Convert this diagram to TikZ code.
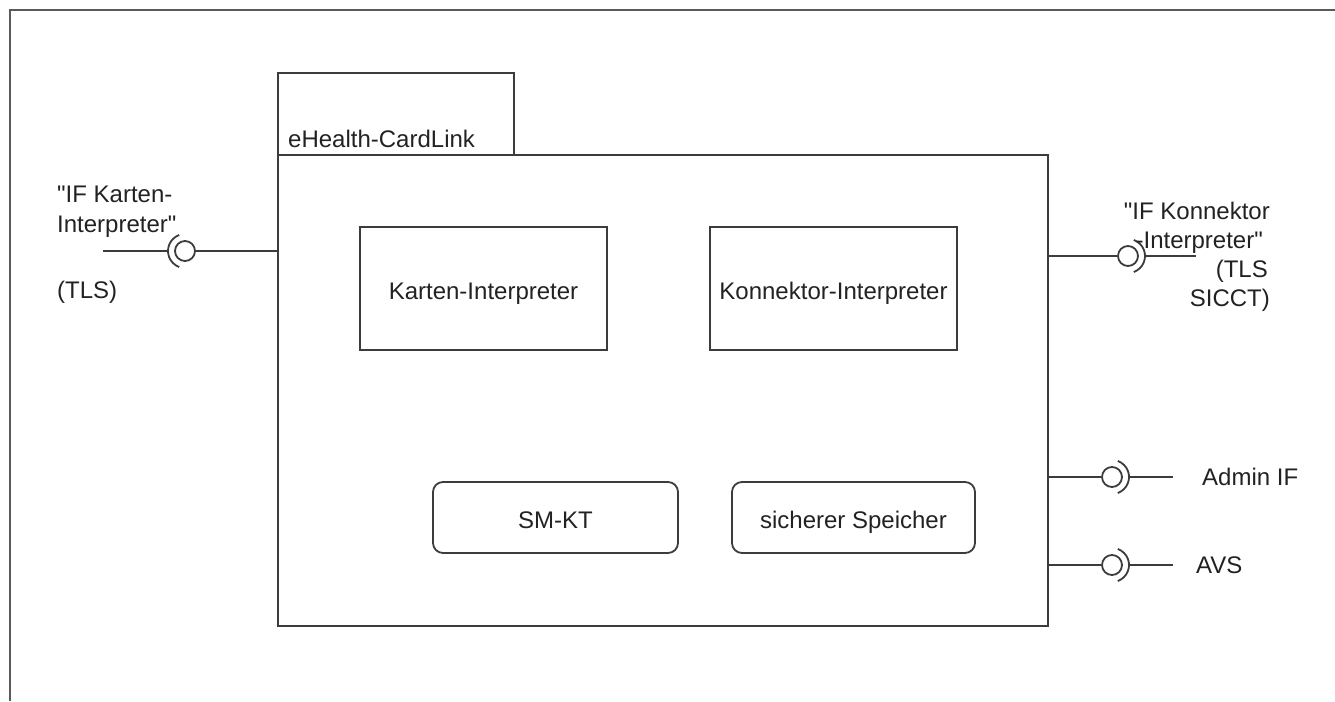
\documentclass[tikz,border=0pt]{standalone}
\usepackage{fontspec}
\setmainfont{Liberation Sans}[Ligatures=TeXOff]
\definecolor{ln}{HTML}{3C3C3C}
\definecolor{tx}{HTML}{222222}
\definecolor{fr}{HTML}{5A5A5A}
\begin{document}
\begin{tikzpicture}[x=1pt,y=-1pt,
  every node/.style={text=tx, font=\fontsize{24}{29}\selectfont},
  line/.style={draw=ln, line width=1.8pt},
  comp/.style={line, rectangle, inner sep=0pt, text height=22pt, text depth=0pt},
  rcomp/.style={comp, rounded corners=10pt},
  ball/.style={line, circle, inner sep=0pt, minimum size=20pt},
  lbl/.style={inner sep=0pt}]
\useasboundingbox (0,0) rectangle (1335,701);
% outer frame
\draw[draw=fr, line width=2pt] (10,701) -- (10,10) -- (1335,10);
% component
\node[comp, minimum width=236pt, minimum height=82pt, anchor=north west] (tab) at (277,72) {};
\node[comp, minimum width=770pt, minimum height=471pt, anchor=north west] (main) at (277,154) {};
\node[lbl, anchor=base west] (title) at (288,147) {eHealth-CardLink};
% inner parts
\node[comp, minimum width=247pt, minimum height=123pt] (karten) at (483.5,288.5) {Karten-Interpreter};
\node[comp, minimum width=247pt, minimum height=123pt] (konn) at (833.5,288.5) {Konnektor-Interpreter};
\node[rcomp, minimum width=245pt, minimum height=71pt] (smkt) at (555.5,517.5) {SM-KT};
\node[rcomp, minimum width=243pt, minimum height=71pt] (spei) at (853.5,517.5) {sicherer Speicher};
% left interface
\node[ball] (b1) at (185,251) {};
\coordinate (e1) at (103,251);
\draw[line] (main.west |- b1) -- (b1);
\draw[line] (b1.center) ++(110:17pt) arc[start angle=110, end angle=250, radius=17pt];
\draw[line] (e1) -- ([xshift=-17pt]b1.center);
\node[lbl, anchor=base west] (l1a) at (57,202) {"IF Karten-};
\node[lbl, anchor=base west] (l1b) at (57,232) {Interpreter"};
\node[lbl, anchor=base west] (l1c) at (57,298) {(TLS)};
% right interface Konnektor
\node[ball] (b2) at (1128,256) {};
\coordinate (e2) at (1196,256);
\draw[line] (main.east |- b2) -- (b2);
\draw[line] (b2.center) ++(-70:17pt) arc[start angle=-70, end angle=70, radius=17pt];
\draw[line] ([xshift=17pt]b2.center) -- (e2);
\node[lbl, anchor=base east] (l2a) at (1270,219) {"IF Konnektor};
\node[lbl, anchor=base east] (l2b) at (1263,248) {-Interpreter"};
\node[lbl, anchor=base east] (l2c) at (1268,277) {(TLS};
\node[lbl, anchor=base east] (l2d) at (1270,306) {SICCT)};
% Admin IF
\node[ball] (b3) at (1112,477) {};
\coordinate (e3) at (1173,477);
\draw[line] (main.east |- b3) -- (b3);
\draw[line] (b3.center) ++(-70:17pt) arc[start angle=-70, end angle=70, radius=17pt];
\draw[line] ([xshift=17pt]b3.center) -- (e3);
\node[lbl, anchor=base west] (l3) at (1202,485) {Admin IF};
% AVS
\node[ball] (b4) at (1112,565) {};
\coordinate (e4) at (1173,565);
\draw[line] (main.east |- b4) -- (b4);
\draw[line] (b4.center) ++(-70:17pt) arc[start angle=-70, end angle=70, radius=17pt];
\draw[line] ([xshift=17pt]b4.center) -- (e4);
\node[lbl, anchor=base west] (l4) at (1196,573) {AVS};
\end{tikzpicture}
\end{document}
